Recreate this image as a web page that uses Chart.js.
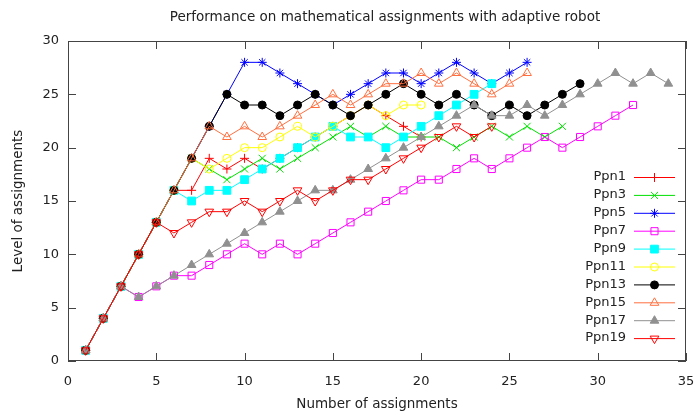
<!DOCTYPE html>
<html>
<head>
<meta charset="utf-8">
<script src="https://cdn.jsdelivr.net/npm/chart.js@4.4.0/dist/chart.umd.min.js"></script>
<style>
body { margin: 0; background: #fff; }
</style>
</head>
<body>
<canvas id="chart" width="695" height="413"></canvas>
<script>
const chartTitle = 'Performance on mathematical assignments with adaptive robot';
const xTitle = 'Number of assignments';
const yTitle = 'Level of assignments';
const xTicks = [0, 5, 10, 15, 20, 25, 30, 35];
const yTicks = [0, 5, 10, 15, 20, 25, 30];

// values per assignment, starting at assignment 1
const ppn1 = [1, 4, 7, 10, 13, 16, 16, 19, 18, 19, 18, 19, 20, 21, 22, 23, 24, 23, 22, 21];
const ppn3 = [1, 4, 7, 10, 13, 16, 19, 18, 17, 18, 19, 18, 19, 20, 21, 22, 21, 22, 21, 21, 21, 20, 21, 22, 21, 22, 21, 22];
const ppn5 = [1, 4, 7, 10, 13, 16, 19, 22, 25, 28, 28, 27, 26, 25, 24, 25, 26, 27, 27, 26, 27, 28, 27, 26, 27, 28];
const ppn7 = [1, 4, 7, 6, 7, 8, 8, 9, 10, 11, 10, 11, 10, 11, 12, 13, 14, 15, 16, 17, 17, 18, 19, 18, 19, 20, 21, 20, 21, 22, 23, 24];
const ppn9 = [1, 4, 7, 10, 13, 16, 15, 16, 16, 17, 18, 19, 20, 21, 22, 21, 21, 20, 21, 22, 23, 24, 25, 26];
const ppn11 = [1, 4, 7, 10, 13, 16, 19, 18, 19, 20, 20, 21, 22, 21, 22, 23, 24, 23, 24, 24];
const ppn13 = [1, 4, 7, 10, 13, 16, 19, 22, 25, 24, 24, 23, 24, 25, 24, 23, 24, 25, 26, 25, 24, 25, 24, 23, 24, 23, 24, 25, 26];
const ppn15 = [1, 4, 7, 10, 13, 16, 19, 22, 21, 22, 21, 22, 23, 24, 25, 24, 25, 26, 26, 27, 26, 27, 26, 25, 26, 27];
const ppn17 = [1, 4, 7, 6, 7, 8, 9, 10, 11, 12, 13, 14, 15, 16, 16, 17, 18, 19, 20, 21, 22, 23, 24, 23, 23, 24, 23, 24, 25, 26, 27, 26, 27, 26];
const ppn19 = [1, 4, 7, 10, 13, 12, 13, 14, 14, 15, 14, 15, 16, 15, 16, 17, 17, 18, 19, 20, 21, 22, 21, 22];

const names = ['Ppn1', 'Ppn3', 'Ppn5', 'Ppn7', 'Ppn9', 'Ppn11', 'Ppn13', 'Ppn15', 'Ppn17', 'Ppn19'];
const series = [ppn1, ppn3, ppn5, ppn7, ppn9, ppn11, ppn13, ppn15, ppn17, ppn19];

// gnuplot style line types
const styles = [
    { color: '#ff0000', point: 'cross', radius: 4.5, filled: false },
    { color: '#00e000', point: 'crossRot', radius: 5, filled: false },
    { color: '#0000ff', point: 'star', radius: 4.5, filled: false },
    { color: '#ff00ff', point: 'rect', radius: 5, filled: false },
    { color: '#00ffff', point: 'rect', radius: 5.5, filled: true },
    { color: '#ffff00', point: 'circle', radius: 4, filled: false },
    { color: '#000000', point: 'circle', radius: 4, filled: true },
    { color: '#ff7040', point: 'triangle', radius: 5, filled: false },
    { color: '#909090', point: 'triangle', radius: 5, filled: true },
    { color: '#ff0000', point: 'triangle', radius: 5, filled: false, rotation: 180 }
];

const textColor = '#222';
const fontFamily = '"DejaVu Sans", sans-serif';

function buildDatasets() {
    return series.map(function (values, i) {
        const s = styles[i];
        return {
            label: names[i],
            data: values.map(function (v, k) { return { x: k + 1, y: v }; }),
            borderColor: s.color,
            borderWidth: 1,
            pointStyle: s.point,
            pointRadius: s.radius,
            pointRotation: s.rotation || 0,
            pointBorderColor: s.color,
            pointBackgroundColor: s.filled ? s.color : 'rgba(0,0,0,0)',
            pointBorderWidth: 1,
            tension: 0,
            order: -i
        };
    });
}

// border box with inward ticks, like gnuplot
const framePlugin = {
    id: 'frame',
    beforeDatasetsDraw(chart) {
        const ctx = chart.ctx;
        const a = chart.chartArea;
        const xs = chart.scales.x;
        const ys = chart.scales.y;
        const len = 8;
        ctx.save();
        ctx.strokeStyle = '#444';
        ctx.lineWidth = 1;
        ctx.strokeRect(a.left + 0.5, a.top + 0.5, a.right - a.left - 1, a.bottom - a.top - 1);
        ctx.beginPath();
        xTicks.forEach(function (t) {
            const px = Math.round(xs.getPixelForValue(t)) + 0.5;
            ctx.moveTo(px, a.bottom);
            ctx.lineTo(px, a.bottom - len);
            ctx.moveTo(px, a.top);
            ctx.lineTo(px, a.top + len);
        });
        yTicks.forEach(function (t) {
            const py = Math.round(ys.getPixelForValue(t)) + 0.5;
            ctx.moveTo(a.left, py);
            ctx.lineTo(a.left + len, py);
            ctx.moveTo(a.right, py);
            ctx.lineTo(a.right - len, py);
        });
        ctx.stroke();
        ctx.restore();
    }
};

// title and key drawn the gnuplot way (key text left of the sample)
const keyPlugin = {
    id: 'key',
    afterDatasetsDraw(chart) {
        const ctx = chart.ctx;
        const a = chart.chartArea;
        ctx.save();
        ctx.fillStyle = textColor;
        ctx.font = '13.5px ' + fontFamily;
        ctx.textAlign = 'center';
        ctx.textBaseline = 'middle';
        ctx.fillText(chartTitle, (a.left + a.right) / 2 + 8, 17);

        ctx.font = '13px ' + fontFamily;
        const textRight = a.right - 60;
        const lineLeft = a.right - 52;
        const lineRight = a.right - 11;
        const top = 177;
        const step = 17.9;
        chart.data.datasets.forEach(function (ds, i) {
            const y = top + i * step;
            ctx.fillStyle = textColor;
            ctx.textAlign = 'right';
            ctx.fillText(ds.label, textRight, y);
            ctx.strokeStyle = ds.borderColor;
            ctx.lineWidth = 1;
            ctx.beginPath();
            ctx.moveTo(lineLeft, y + 0.5);
            ctx.lineTo(lineRight, y + 0.5);
            ctx.stroke();
            ctx.fillStyle = ds.pointBackgroundColor;
            ctx.strokeStyle = ds.pointBorderColor;
            Chart.helpers.drawPoint(ctx, {
                pointStyle: ds.pointStyle,
                rotation: ds.pointRotation,
                radius: ds.pointRadius,
                borderWidth: 1
            }, (lineLeft + lineRight) / 2, y + 0.5);
        });
        ctx.restore();
    }
};

Chart.defaults.font.family = fontFamily;
Chart.defaults.font.size = 13;
Chart.defaults.color = textColor;

new Chart(document.getElementById('chart'), {
    type: 'line',
    data: { datasets: buildDatasets() },
    options: {
        responsive: false,
        animation: false,
        devicePixelRatio: 1,
        layout: { padding: { top: 41, right: 9, left: 0, bottom: 0 } },
        plugins: {
            legend: { display: false },
            title: { display: false },
            tooltip: { enabled: false }
        },
        scales: {
            x: {
                type: 'linear',
                min: 0,
                max: 35,
                afterBuildTicks: function (scale) {
                    scale.ticks = xTicks.map(function (v) { return { value: v }; });
                },
                afterFit: function (scale) {
                    scale.height = 52;
                    scale.paddingLeft = 0;
                    scale.paddingRight = 0;
                },
                grid: { display: false, drawTicks: false },
                border: { display: false },
                ticks: { padding: 13, maxRotation: 0, autoSkip: false },
                title: { display: true, text: xTitle, font: { size: 13.5 }, padding: { top: 0, bottom: 0 } }
            },
            y: {
                type: 'linear',
                min: 0,
                max: 30,
                afterBuildTicks: function (scale) {
                    scale.ticks = yTicks.map(function (v) { return { value: v }; });
                },
                afterFit: function (scale) {
                    scale.width = 68;
                    scale.paddingTop = 0;
                    scale.paddingBottom = 0;
                },
                grid: { display: false, drawTicks: false },
                border: { display: false },
                ticks: { padding: 9, autoSkip: false },
                title: { display: true, text: yTitle, font: { size: 13.5 }, padding: { top: 10, bottom: 0 } }
            }
        }
    },
    plugins: [framePlugin, keyPlugin]
});
</script>
</body>
</html>
